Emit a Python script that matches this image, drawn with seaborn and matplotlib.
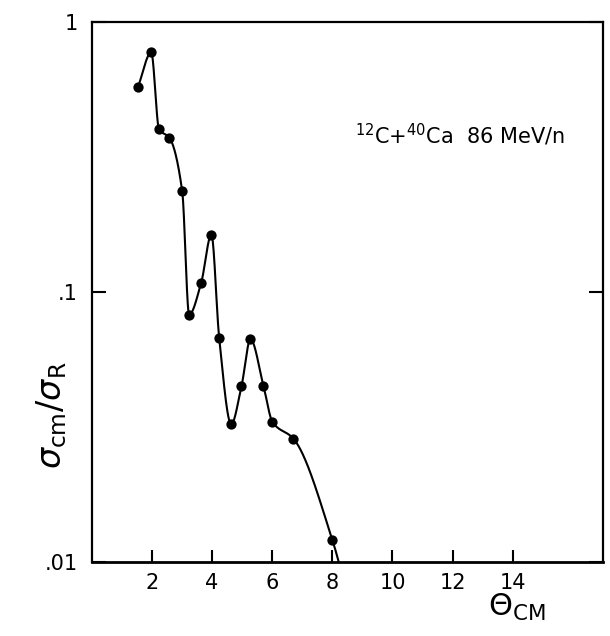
import numpy as np
import seaborn as sns
from matplotlib import pyplot as plt

# measured points, 12C + 40Ca at 86 MeV/n
theta = [1.54, 1.98, 2.24, 2.58, 3.01, 3.24, 3.64, 3.98, 4.24, 4.64, 4.98, 5.28, 5.71, 6.01, 6.71, 8.0]
sigma = [0.574, 0.771, 0.400, 0.373, 0.236, 0.0824, 0.108, 0.163, 0.0674, 0.0324, 0.0447, 0.0668, 0.045, 0.033, 0.0286, 0.0121]

# hand drawn guide line runs a little past the last point
tail_theta = [8.35]
tail_sigma = [0.0088]

x_ticks = [2, 4, 6, 8, 10, 12, 14]
y_ticks = [0.01, 0.1, 1]
y_tick_labels = ['.01', '.1', '1']


def pchip(x, y, xn):
    # monotone cubic through the knots (Fritsch-Carlson)
    x = np.asarray(x, float)
    y = np.asarray(y, float)
    h = np.diff(x)
    d = np.diff(y) / h
    m = np.zeros_like(y)
    m[0], m[-1] = d[0], d[-1]
    for k in range(1, len(x) - 1):
        if d[k - 1] * d[k] > 0:
            w1 = 2 * h[k] + h[k - 1]
            w2 = h[k] + 2 * h[k - 1]
            m[k] = (w1 + w2) / (w1 / d[k - 1] + w2 / d[k])
    i = np.clip(np.searchsorted(x, xn) - 1, 0, len(x) - 2)
    t = (xn - x[i]) / h[i]
    h00 = 2 * t**3 - 3 * t**2 + 1
    h10 = t**3 - 2 * t**2 + t
    h01 = -2 * t**3 + 3 * t**2
    h11 = t**3 - t**2
    return h00 * y[i] + h10 * h[i] * m[i] + h01 * y[i + 1] + h11 * h[i] * m[i + 1]


sns.set_style("white")
plt.rcParams['font.family'] = ['DejaVu Sans']
plt.rcParams['mathtext.fontset'] = 'dejavusans'
plt.rcParams['text.color'] = 'black'
plt.rcParams['xtick.color'] = 'black'
plt.rcParams['ytick.color'] = 'black'

fig = plt.figure(figsize=(6.1, 6.36), dpi=100)
ax = fig.add_axes([0.1503, 0.1164, 0.8382, 0.8491])

# smooth curve in log space through the points
kx = theta + tail_theta
ky = np.log10(sigma + tail_sigma)
xs = np.linspace(kx[0], kx[-1], 800)
ys = 10 ** pchip(kx, ky, xs)
sns.lineplot(x=xs, y=ys, ax=ax, color='black', linewidth=1.5, estimator=None, sort=False)
sns.scatterplot(x=theta, y=sigma, ax=ax, color='black', s=55, edgecolor='black', linewidth=0, zorder=3)

ax.set_yscale('log')
ax.set_xlim(0, 17)
ax.set_ylim(0.01, 1)
ax.set_xticks(x_ticks)
ax.set_xticklabels([str(v) for v in x_ticks], fontsize=15)
ax.set_yticks(y_ticks)
ax.set_yticklabels(y_tick_labels, fontsize=15)
ax.minorticks_off()
ax.tick_params(axis='x', direction='in', length=9, width=1.5, pad=8, bottom=True, top=False)
ax.tick_params(axis='y', direction='in', length=10, width=1.5, pad=10, left=True, right=True)
for sp in ax.spines.values():
    sp.set_visible(True)
    sp.set_color('black')
    sp.set_linewidth(1.6)
ax.spines['bottom'].set_linewidth(2.0)

ax.text(0.515, 0.775, r'$^{12}$C+$^{40}$Ca  86 MeV/n', transform=ax.transAxes,
        fontsize=15, ha='left', va='baseline')

fig.text(0.085, 0.347, r'$\sigma_{\rm cm}/\sigma_{\rm R}$', rotation=90,
         fontsize=24, ha='center', va='center')
fig.text(0.848, 0.045, r'$\Theta_{\rm CM}$', fontsize=22, ha='center', va='center')

fig.savefig('out.png', dpi=100)
